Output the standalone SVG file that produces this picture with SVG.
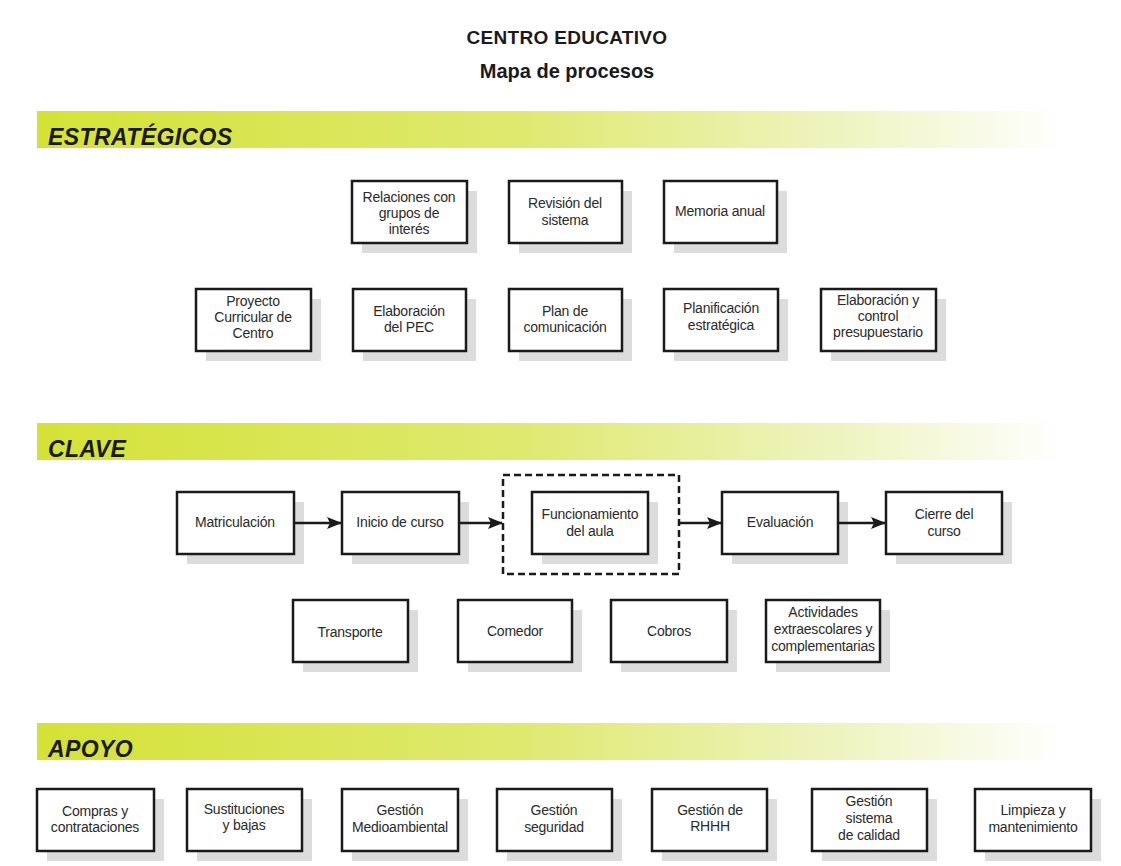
<svg xmlns="http://www.w3.org/2000/svg" width="1121" height="866" viewBox="0 0 1121 866">
<defs>
<linearGradient id="band" x1="0" y1="0" x2="1" y2="0">
<stop offset="0" stop-color="#d4e236"/>
<stop offset="0.45" stop-color="#dfe96f"/>
<stop offset="0.75" stop-color="#eef4c0"/>
<stop offset="0.96" stop-color="#ffffff"/>
</linearGradient>
<marker id="arr" markerWidth="15" markerHeight="12" refX="14" refY="6" orient="auto" markerUnits="userSpaceOnUse">
<path d="M0,0 L15,6 L0,12 L3,6 Z" fill="#1a1a1a"/>
</marker>
</defs>
<style>
.t{font-family:"Liberation Sans",Arial,sans-serif;font-size:14px;letter-spacing:-0.2px;fill:#2a2a2a;text-anchor:middle}
.h{font-family:"Liberation Sans",Arial,sans-serif;font-weight:bold;fill:#1a1a1a;text-anchor:middle}
.sec{font-family:"Liberation Sans",Arial,sans-serif;font-weight:bold;font-style:italic;font-size:23px;letter-spacing:0.4px;fill:#1a1a1a}
.b{fill:#fff;stroke:#1a1a1a;stroke-width:2.5}
.s{fill:#dcdcdc}
.c{stroke:#1a1a1a;stroke-width:2.5;fill:none}
</style>
<rect width="1121" height="866" fill="#fff"/>
<text class="h" x="567" y="44" font-size="19" letter-spacing="0.3">CENTRO EDUCATIVO</text>
<text class="h" x="567" y="78" font-size="20">Mapa de procesos</text>

<g id="band-estrategicos"><rect x="37" y="111" width="1070" height="37" fill="url(#band)"/><text class="sec" x="48" y="145">ESTRATÉGICOS</text></g>
<g id="band-clave"><rect x="37" y="423" width="1070" height="37" fill="url(#band)"/><text class="sec" x="48" y="457">CLAVE</text></g>
<g id="band-apoyo"><rect x="37" y="723" width="1070" height="37" fill="url(#band)"/><text class="sec" x="48" y="757">APOYO</text></g>

<g id="n-relaciones"><rect class="s" x="362" y="191" width="115" height="62"/><rect class="b" x="352" y="181" width="115" height="62"/><text class="t" x="409" y="202">Relaciones con</text><text class="t" x="409" y="218">grupos de</text><text class="t" x="409" y="234">interés</text></g>
<g id="n-revision"><rect class="s" x="519" y="191" width="113" height="62"/><rect class="b" x="509" y="181" width="113" height="62"/><text class="t" x="565" y="208">Revisión del</text><text class="t" x="565" y="225">sistema</text></g>
<g id="n-memoria"><rect class="s" x="674" y="191" width="113" height="62"/><rect class="b" x="664" y="181" width="113" height="62"/><text class="t" x="720" y="216">Memoria anual</text></g>

<g id="n-pcc"><rect class="s" x="206" y="299" width="115" height="62"/><rect class="b" x="196" y="289" width="115" height="62"/><text class="t" x="253" y="306">Proyecto</text><text class="t" x="253" y="322">Curricular de</text><text class="t" x="253" y="338">Centro</text></g>
<g id="n-pec"><rect class="s" x="363" y="299" width="113" height="62"/><rect class="b" x="353" y="289" width="113" height="62"/><text class="t" x="409" y="316">Elaboración</text><text class="t" x="409" y="332">del PEC</text></g>
<g id="n-plancom"><rect class="s" x="519" y="299" width="113" height="62"/><rect class="b" x="509" y="289" width="113" height="62"/><text class="t" x="565" y="316">Plan de</text><text class="t" x="565" y="332">comunicación</text></g>
<g id="n-planif"><rect class="s" x="674" y="299" width="114" height="62"/><rect class="b" x="664" y="289" width="114" height="62"/><text class="t" x="721" y="313">Planificación</text><text class="t" x="721" y="330">estratégica</text></g>
<g id="n-presup"><rect class="s" x="831" y="299" width="115" height="62"/><rect class="b" x="821" y="289" width="115" height="62"/><text class="t" x="878" y="305">Elaboración y</text><text class="t" x="878" y="321">control</text><text class="t" x="878" y="337">presupuestario</text></g>

<g id="n-matric"><rect class="s" x="187" y="502" width="117" height="62"/><rect class="b" x="177" y="492" width="117" height="62"/><text class="t" x="235" y="527">Matriculación</text></g>
<g id="n-inicio"><rect class="s" x="352" y="502" width="117" height="62"/><rect class="b" x="342" y="492" width="117" height="62"/><text class="t" x="400" y="527">Inicio de curso</text></g>
<g id="n-aula-grupo"><rect x="503" y="475" width="176" height="99" fill="none" stroke="#1a1a1a" stroke-width="2.5" stroke-dasharray="7,4"/></g>
<g id="n-aula"><rect class="s" x="542" y="502" width="116" height="62"/><rect class="b" x="532" y="492" width="116" height="62"/><text class="t" x="590" y="519">Funcionamiento</text><text class="t" x="590" y="536">del aula</text></g>
<g id="n-eval"><rect class="s" x="732" y="502" width="116" height="62"/><rect class="b" x="722" y="492" width="116" height="62"/><text class="t" x="780" y="527">Evaluación</text></g>
<g id="n-cierre"><rect class="s" x="896" y="502" width="116" height="62"/><rect class="b" x="886" y="492" width="116" height="62"/><text class="t" x="944" y="519">Cierre del</text><text class="t" x="944" y="536">curso</text></g>

<g id="n-transporte"><rect class="s" x="303" y="610" width="115" height="62"/><rect class="b" x="293" y="600" width="115" height="62"/><text class="t" x="350" y="637">Transporte</text></g>
<g id="n-comedor"><rect class="s" x="468" y="610" width="114" height="62"/><rect class="b" x="458" y="600" width="114" height="62"/><text class="t" x="515" y="636">Comedor</text></g>
<g id="n-cobros"><rect class="s" x="621" y="610" width="116" height="62"/><rect class="b" x="611" y="600" width="116" height="62"/><text class="t" x="669" y="636">Cobros</text></g>
<g id="n-activ"><rect class="s" x="776" y="610" width="114" height="62"/><rect class="b" x="766" y="600" width="114" height="62"/><text class="t" x="823" y="617">Actividades</text><text class="t" x="823" y="634">extraescolares y</text><text class="t" x="823" y="651">complementarias</text></g>

<g id="n-compras"><rect class="s" x="47" y="799" width="117" height="62"/><rect class="b" x="37" y="789" width="117" height="62"/><text class="t" x="95" y="816">Compras y</text><text class="t" x="95" y="832">contrataciones</text></g>
<g id="n-sustit"><rect class="s" x="197" y="799" width="115" height="62"/><rect class="b" x="187" y="789" width="115" height="62"/><text class="t" x="244" y="814">Sustituciones</text><text class="t" x="244" y="830">y bajas</text></g>
<g id="n-medio"><rect class="s" x="352" y="799" width="116" height="62"/><rect class="b" x="342" y="789" width="116" height="62"/><text class="t" x="400" y="815">Gestión</text><text class="t" x="400" y="832">Medioambiental</text></g>
<g id="n-segur"><rect class="s" x="507" y="799" width="115" height="62"/><rect class="b" x="497" y="789" width="115" height="62"/><text class="t" x="554" y="815">Gestión</text><text class="t" x="554" y="832">seguridad</text></g>
<g id="n-rhhh"><rect class="s" x="662" y="799" width="115" height="62"/><rect class="b" x="652" y="789" width="115" height="62"/><text class="t" x="710" y="815">Gestión de</text><text class="t" x="710" y="831">RHHH</text></g>
<g id="n-calidad"><rect class="s" x="822" y="799" width="115" height="62"/><rect class="b" x="812" y="789" width="115" height="62"/><text class="t" x="869" y="806">Gestión</text><text class="t" x="869" y="823">sistema</text><text class="t" x="869" y="840">de calidad</text></g>
<g id="n-limpieza"><rect class="s" x="985" y="799" width="116" height="62"/><rect class="b" x="975" y="789" width="116" height="62"/><text class="t" x="1033" y="815">Limpieza y</text><text class="t" x="1033" y="832">mantenimiento</text></g>

<g id="connectors">
<line class="c" x1="295" y1="523" x2="341" y2="523" marker-end="url(#arr)"/>
<line class="c" x1="460" y1="523" x2="502" y2="523" marker-end="url(#arr)"/>
<line class="c" x1="680" y1="523" x2="721" y2="523" marker-end="url(#arr)"/>
<line class="c" x1="839" y1="523" x2="885" y2="523" marker-end="url(#arr)"/>
</g>
</svg>
